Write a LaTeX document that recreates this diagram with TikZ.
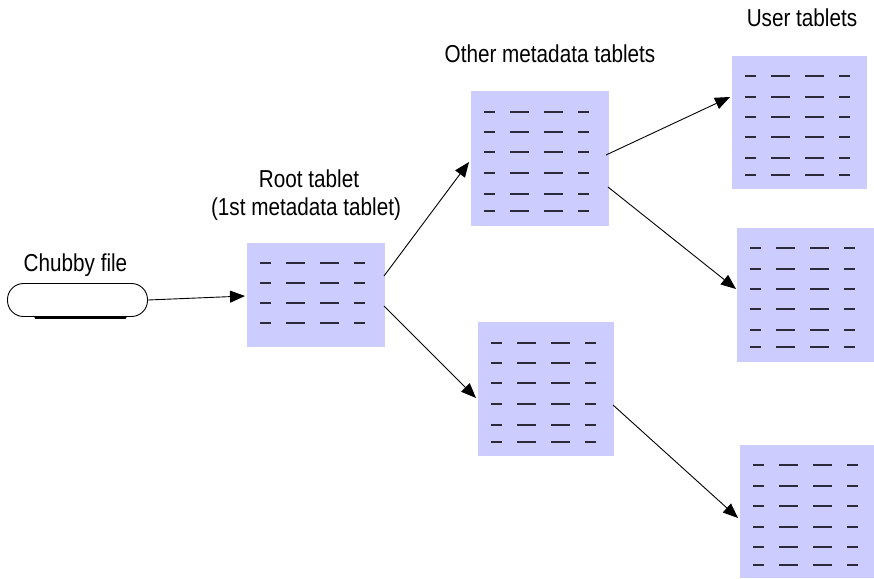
\documentclass[tikz,border=0pt]{standalone}
\usepackage{fontspec}
\setmainfont{Liberation Sans}[FakeStretch=0.845]
\usetikzlibrary{arrows.meta,calc}
\definecolor{tabfill}{HTML}{CCCCFF}
\definecolor{tabdash}{HTML}{2A2A3A}
\tikzset{
  tab/.style={fill=tabfill, draw=none, inner sep=0pt, anchor=north west},
  tabline/.style={line width=1.4pt, draw=tabdash},
  arr/.style={line width=0.9pt, -{Triangle[length=15pt,width=12pt]}},
  lbl/.style={font=\fontsize{24.5}{27}\selectfont, anchor=base, inner sep=0pt},
}
\newcommand\tablet[6]{%
  \node[tab, minimum width=#4pt, minimum height=#5pt] (#1) at (#2,#3) {};
  \begin{scope}[shift={(#1.north west)}]
    \foreach \r in {#6} {
      \draw[tabline] (13,\r) -- (24,\r);
      \draw[tabline] (39,\r) -- (58,\r);
      \draw[tabline] (73,\r) -- (92,\r);
      \draw[tabline] (107,\r) -- (118,\r);
    }
  \end{scope}
}
\begin{document}
\begin{tikzpicture}[x=1pt,y=-1pt]
\useasboundingbox (0,0) rectangle (874,578);
% tablets
\tablet{root}{247}{243}{138}{104}{20,40,60,80}
\tablet{metaA}{471}{91}{138}{135}{21,41,61,82,103,120}
\tablet{metaB}{478}{322}{136}{134}{21,41,61,82,103,120}
\tablet{userA}{732}{56}{135}{133}{20,41,61,81,102,119}
\tablet{userB}{737}{228}{137}{134}{20,41,61,81,102,119}
\tablet{userC}{740}{445}{134}{133}{20,41,61,82,102,120}
% chubby file
\node[draw, line width=0.9pt, rounded corners=16pt, minimum width=140pt, minimum height=33pt, inner sep=0pt] (chubby) at (77.5,300) {};
\draw[line width=2.2pt, line cap=round] ($(chubby.south)+(-42,0.5)$) -- ($(chubby.south)+(48,0.5)$);
% labels
\node[lbl] (lchubby) at (75.5,271) {Chubby file};
\node[lbl] (lroot) at (309,187) {Root tablet};
\node[lbl] (lroot2) at (306,215) {(1st metadata tablet)};
\node[lbl] (lmeta) at (550,63) {Other metadata tablets};
\node[lbl] (luser) at (802,27) {User tablets};
% arrows
\draw[arr] (chubby.east) -- ($(root.north west)+(-2,53)$);
\draw[arr] ($(root.north west)+(137,33)$) -- ($(metaA.north west)+(-2,71)$);
\draw[arr] ($(root.north west)+(137,63)$) -- ($(metaB.north west)+(-2,76)$);
\draw[arr] ($(metaA.north west)+(135,64)$) -- ($(userA.north west)+(-2,41)$);
\draw[arr] ($(metaA.north west)+(137,96)$) -- ($(userB.north west)+(-1,61)$);
\draw[arr] ($(metaB.north west)+(135,83)$) -- ($(userC.north west)+(-2,73)$);
\end{tikzpicture}
\end{document}
